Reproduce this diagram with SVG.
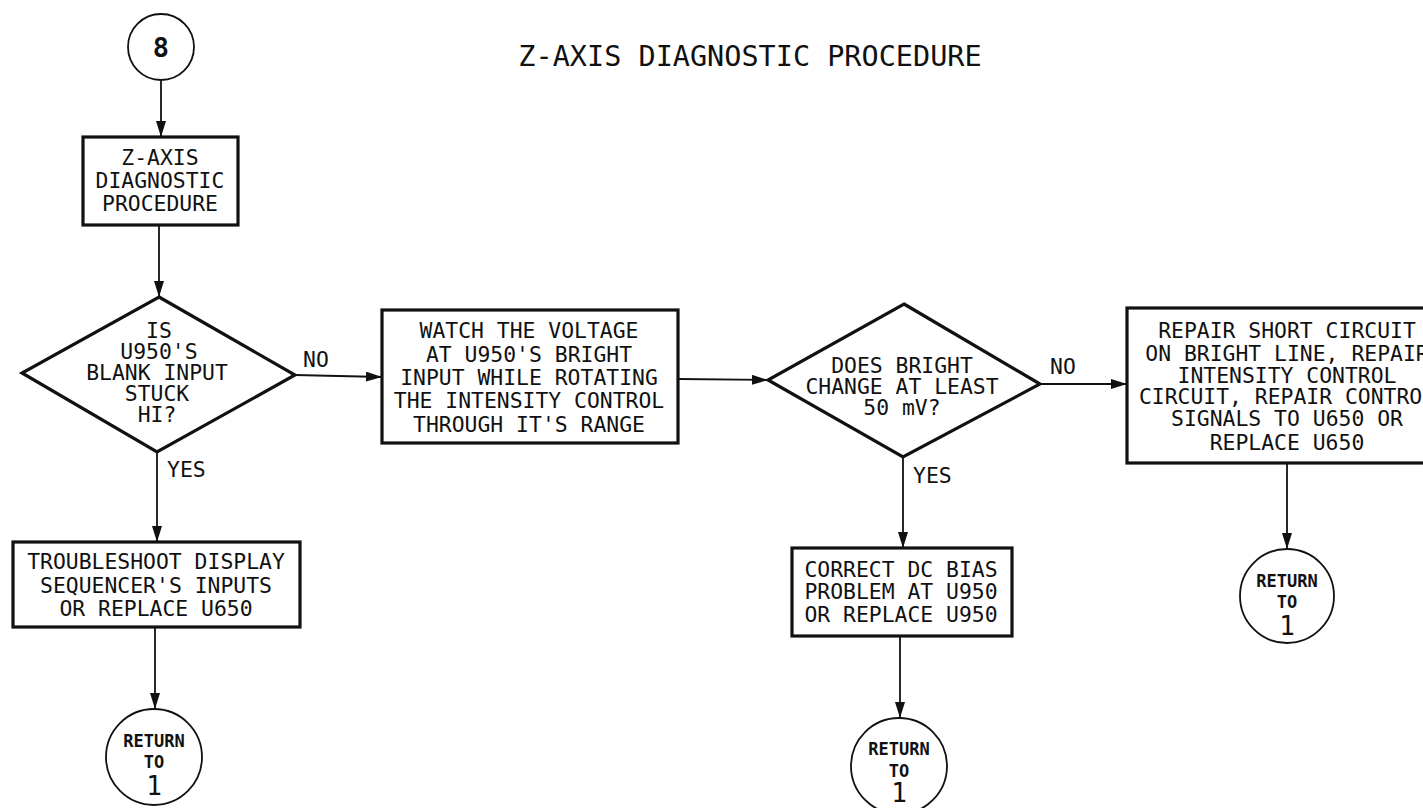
<svg xmlns="http://www.w3.org/2000/svg" width="1423" height="808" viewBox="0 0 1423 808">
<style>
text{font-family:"DejaVu Sans Mono","Liberation Mono",monospace;fill:#111;text-anchor:middle}
.t{font-size:21.4px}
.lbl{font-size:21.4px;text-anchor:start}
.title{font-size:28.5px}
.box{fill:#fff;stroke:#111;stroke-width:3.2}
.dia{fill:#fff;stroke:#111;stroke-width:3.2}
.circ{fill:#fff;stroke:#111;stroke-width:1.8}
.ret{font-size:17px;font-weight:bold}
.one{font-size:26px}
.eight{font-size:27px;font-weight:bold}
.con{fill:none;stroke:#111;stroke-width:1.8}
</style>
<defs>
<marker id="ah" viewBox="0 0 16 10" refX="16" refY="5" markerWidth="16" markerHeight="10" markerUnits="userSpaceOnUse" orient="auto">
<path d="M0,0 L16,5 L0,10 z" fill="#111"/>
</marker>
</defs>
<rect width="1423" height="808" fill="#fff"/>
<text class="title" x="750" y="66">Z-AXIS DIAGNOSTIC PROCEDURE</text>

<g id="connectors">
<line class="con" x1="161" y1="80" x2="161" y2="137" marker-end="url(#ah)"/>
<line class="con" x1="159" y1="225" x2="159" y2="297" marker-end="url(#ah)"/>
<line class="con" x1="295" y1="375" x2="382" y2="377" marker-end="url(#ah)"/>
<line class="con" x1="157" y1="452" x2="157" y2="542" marker-end="url(#ah)"/>
<line class="con" x1="155" y1="627" x2="155" y2="709" marker-end="url(#ah)"/>
<line class="con" x1="678" y1="379" x2="768" y2="380" marker-end="url(#ah)"/>
<line class="con" x1="1040" y1="384" x2="1127" y2="384" marker-end="url(#ah)"/>
<line class="con" x1="903" y1="457" x2="903" y2="548" marker-end="url(#ah)"/>
<line class="con" x1="900" y1="636" x2="900" y2="718" marker-end="url(#ah)"/>
<line class="con" x1="1287" y1="463" x2="1287" y2="549" marker-end="url(#ah)"/>
<text class="lbl" x="303" y="367">NO</text>
<text class="lbl" x="167" y="477">YES</text>
<text class="lbl" x="1050" y="374">NO</text>
<text class="lbl" x="913" y="483">YES</text>
</g>

<g id="start8">
<circle class="circ" cx="161" cy="47" r="33"/>
<text class="eight" x="161" y="57">8</text>
</g>

<g id="zaxis">
<rect class="box" x="83" y="137" width="155" height="88"/>
<text class="t" x="160" y="165">Z-AXIS</text>
<text class="t" x="160" y="188">DIAGNOSTIC</text>
<text class="t" x="160" y="211">PROCEDURE</text>
</g>

<g id="dec1">
<polygon class="dia" points="159,297 295,375 157,452 22,373"/>
<text class="t" x="159" y="338">IS</text>
<text class="t" x="159" y="359">U950'S</text>
<text class="t" x="157" y="380">BLANK INPUT</text>
<text class="t" x="157" y="401">STUCK</text>
<text class="t" x="157" y="422">HI?</text>
</g>

<g id="trouble">
<rect class="box" x="13" y="542" width="287" height="85"/>
<text class="t" x="156" y="569">TROUBLESHOOT DISPLAY</text>
<text class="t" x="156" y="593">SEQUENCER'S INPUTS</text>
<text class="t" x="156" y="616">OR REPLACE U650</text>
</g>

<g id="ret1">
<circle class="circ" cx="154" cy="757" r="48"/>
<text class="ret" x="154" y="747">RETURN</text>
<text class="ret" x="154" y="768">TO</text>
<text class="one" x="154" y="795">1</text>
</g>

<g id="watch">
<rect class="box" x="382" y="310" width="296" height="133"/>
<text class="t" x="529" y="338">WATCH THE VOLTAGE</text>
<text class="t" x="529" y="362">AT U950'S BRIGHT</text>
<text class="t" x="529" y="385">INPUT WHILE ROTATING</text>
<text class="t" x="529" y="408">THE INTENSITY CONTROL</text>
<text class="t" x="529" y="432">THROUGH IT'S RANGE</text>
</g>

<g id="dec2">
<polygon class="dia" points="904,304 1040,384 903,457 768,380"/>
<text class="t" x="902" y="373">DOES BRIGHT</text>
<text class="t" x="902" y="394">CHANGE AT LEAST</text>
<text class="t" x="902" y="415">50 mV?</text>
</g>

<g id="correct">
<rect class="box" x="792" y="548" width="220" height="88"/>
<text class="t" x="901" y="577">CORRECT DC BIAS</text>
<text class="t" x="901" y="599">PROBLEM AT U950</text>
<text class="t" x="901" y="622">OR REPLACE U950</text>
</g>

<g id="ret2">
<circle class="circ" cx="899" cy="766" r="48"/>
<text class="ret" x="899" y="755">RETURN</text>
<text class="ret" x="899" y="777">TO</text>
<text class="one" x="899" y="802">1</text>
</g>

<g id="repair">
<rect class="box" x="1127" y="308" width="330" height="155"/>
<text class="t" x="1287" y="338">REPAIR SHORT CIRCUIT</text>
<text class="t" x="1287" y="361">ON BRIGHT LINE, REPAIR</text>
<text class="t" x="1287" y="383">INTENSITY CONTROL</text>
<text class="t" x="1287" y="404">CIRCUIT, REPAIR CONTROL</text>
<text class="t" x="1287" y="426">SIGNALS TO U650 OR</text>
<text class="t" x="1287" y="450">REPLACE U650</text>
</g>

<g id="ret3">
<circle class="circ" cx="1287" cy="596" r="47"/>
<text class="ret" x="1287" y="587">RETURN</text>
<text class="ret" x="1287" y="608">TO</text>
<text class="one" x="1287" y="635">1</text>
</g>
</svg>
